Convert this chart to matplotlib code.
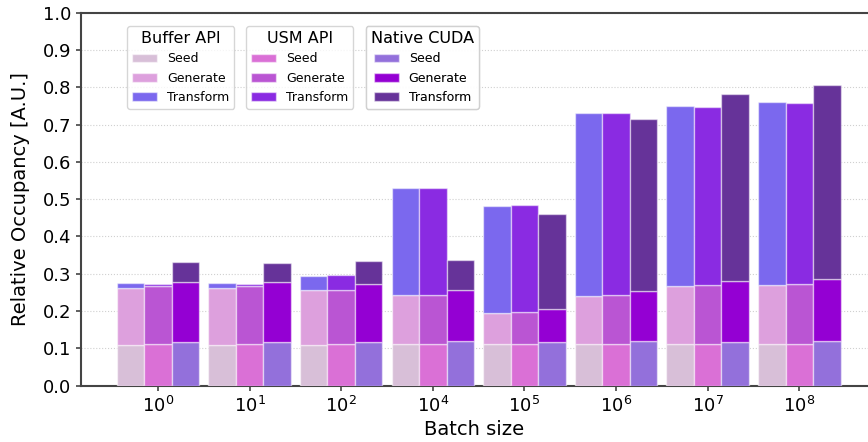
import matplotlib
matplotlib.use("Agg")
import matplotlib.pyplot as plt
import numpy as np
from matplotlib.patches import Patch

batch_labels = [r"$10^0$", r"$10^1$", r"$10^2$", r"$10^4$", r"$10^5$", r"$10^6$", r"$10^7$", r"$10^8$"]
apis = ["Buffer API", "USM API", "Native CUDA"]
stages = ["Seed", "Generate", "Transform"]

# cumulative occupancy at the end of each stage
buffer_seed      = [0.110, 0.110, 0.110, 0.112, 0.112, 0.112, 0.111, 0.111]
buffer_generate  = [0.263, 0.263, 0.256, 0.243, 0.195, 0.240, 0.267, 0.271]
buffer_transform = [0.274, 0.274, 0.295, 0.529, 0.482, 0.731, 0.751, 0.761]

usm_seed      = [0.111, 0.111, 0.111, 0.112, 0.112, 0.112, 0.111, 0.111]
usm_generate  = [0.266, 0.266, 0.257, 0.243, 0.197, 0.242, 0.269, 0.272]
usm_transform = [0.273, 0.273, 0.296, 0.530, 0.484, 0.732, 0.748, 0.758]

cuda_seed      = [0.118, 0.116, 0.118, 0.119, 0.116, 0.119, 0.116, 0.119]
cuda_generate  = [0.279, 0.278, 0.272, 0.257, 0.206, 0.255, 0.282, 0.287]
cuda_transform = [0.331, 0.330, 0.334, 0.337, 0.460, 0.716, 0.781, 0.806]

colors = {
    "Buffer API": ["#D8BFD8", "#DDA0DD", "#7B68EE"],
    "USM API": ["#DA70D6", "#BA55D3", "#8A2BE2"],
    "Native CUDA": ["#9370DB", "#9400D3", "#663399"],
}
data = {
    "Buffer API": [buffer_seed, buffer_generate, buffer_transform],
    "USM API": [usm_seed, usm_generate, usm_transform],
    "Native CUDA": [cuda_seed, cuda_generate, cuda_transform],
}

fig = plt.figure(figsize=(8.68, 4.42), dpi=100)
ax = fig.add_axes([0.0933, 0.1274, 0.9067, 0.8439])

x = np.arange(len(batch_labels))
w = 0.3
edge = (1, 1, 1, 0.5)
for i, api in enumerate(apis):
    cum = [np.array(v) for v in data[api]]
    bottoms = [np.zeros(len(x)), cum[0], cum[1]]
    for s in range(3):
        ax.bar(x + (i - 1) * w, cum[s] - bottoms[s], w, bottom=bottoms[s],
               color=colors[api][s], edgecolor=edge, linewidth=1.0, zorder=3)

ax.set_xlim(-0.84, 7.75)
ax.set_ylim(0, 1.0)
ax.set_yticks(np.arange(0, 1.01, 0.1))
ax.set_xticks(x)
ax.set_xticklabels(batch_labels)
ax.tick_params(labelsize=13, color="#444444", width=1.2)
ax.yaxis.grid(True, linestyle=":", color="#d0d0d0", linewidth=0.8, zorder=0)
ax.set_axisbelow(True)
for sp in ["left", "bottom", "top"]:
    ax.spines[sp].set_color("#444444")
    ax.spines[sp].set_linewidth(1.5)
ax.spines["right"].set_visible(False)
ax.set_ylabel("Relative Occupancy [A.U.]", fontsize=14, labelpad=9)
ax.set_xlabel("Batch size", fontsize=14, labelpad=3)

positions = [0.0585, 0.2097, 0.3618]
for i, api in enumerate(apis):
    handles = [Patch(facecolor=colors[api][s], edgecolor=edge) for s in range(3)]
    leg = ax.legend(handles, stages, title=api, loc="upper left",
                    bbox_to_anchor=(positions[i], 0.964), borderaxespad=0,
                    fontsize=9, title_fontsize=11.5, handlelength=2.0,
                    labelspacing=0.5)
    ax.add_artist(leg)

fig.savefig("out.png", dpi=100)
